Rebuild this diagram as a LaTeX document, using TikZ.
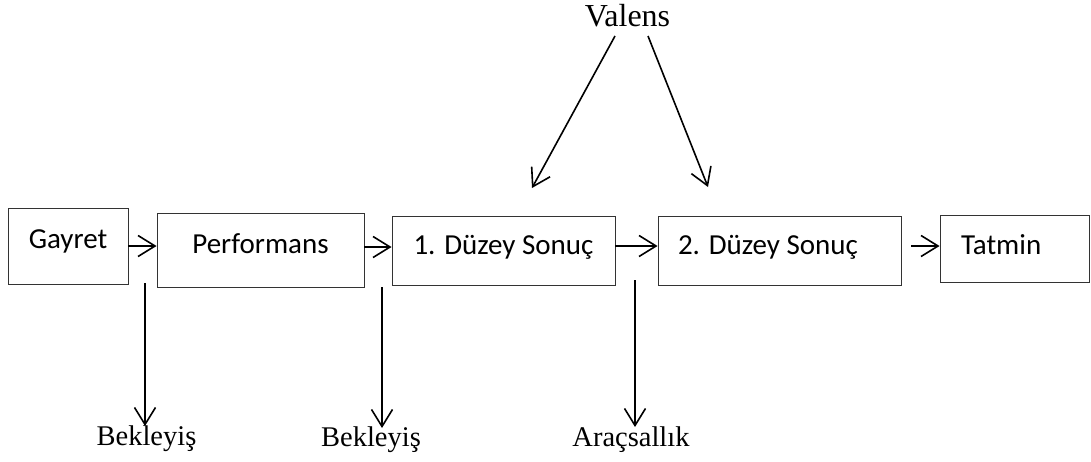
\documentclass[tikz,border=0pt]{standalone}
\usepackage{fontspec}
\setmainfont{Liberation Serif}
\newfontfamily\boxfont{Carlito}
\usetikzlibrary{arrows.meta}

\tikzset{
  stagebox/.style={draw=black!80, line width=0.9pt, inner sep=0pt,
    font=\boxfont\fontsize{29}{34}\selectfont},
  leftbox/.style={stagebox, align=flush left, inner xsep=20pt},
  factor/.style={inner sep=0pt, anchor=base, font=\fontsize{28.5}{34}\selectfont},
  arr/.style={line width=1.6pt, -{Straight Barb[length=17pt,width=21pt,line width=1.6pt]}},
}

\begin{document}
\begin{tikzpicture}[x=1pt, y=-1pt]
  \useasboundingbox (0,0) rectangle (1091,461);

  % process chain
  \node[stagebox, minimum width=120pt, minimum height=76pt,
        text height=11pt, text depth=7pt] (g) at (68,246) {Gayret};
  \node[stagebox, minimum width=207pt, minimum height=74pt,
        text height=12pt, text depth=5pt] (p) at (260.5,250) {Performans};
  \node[stagebox, minimum width=223pt, minimum height=69pt,
        text height=12pt, text depth=5pt] (d1) at (503.5,250.5) {1. Düzey Sonuç};
  \node[leftbox, text width=203pt, minimum height=69pt,
        text height=12pt, text depth=5pt] (d2) at (779.5,250.5) {2. Düzey Sonuç};
  \node[leftbox, inner xsep=21pt, text width=107pt, minimum height=67pt,
        text height=14pt, text depth=3pt] (t) at (1014.5,248.5) {Tatmin};

  \draw[arr] (g.east) -- (g.east -| p.west);
  \draw[arr] ([yshift=3pt]p.east) -- ([yshift=3pt]p.east -| d1.west);
  \draw[arr] ([yshift=4.5pt]d1.east) -- ([yshift=4.5pt]d1.east -| d2.west);
  \draw[arr] ([xshift=10pt,yshift=4.5pt]d2.east) -- ([yshift=4.5pt]d2.east -| t.west);

  % valence
  \node[factor, font=\fontsize{32}{36}\selectfont] (val) at (627.5,26) {Valens};
  \coordinate (vl) at (615,36);
  \coordinate (vr) at (648,36);
  \coordinate (vlt) at (532,188);
  \coordinate (vrt) at (708,187);
  \draw[arr] (vl) -- (vlt);
  \draw[arr] (vr) -- (vrt);

  % expectancy and instrumentality
  \node[factor] (b1) at (146.5,445) {Bekleyiş};
  \node[factor] (b2) at (371,446) {Bekleyiş};
  \node[factor] (ar) at (631,446) {Araçsallık};
  \coordinate (b1s) at (145,283);
  \coordinate (b1t) at (145,426);
  \coordinate (b2s) at (382,287);
  \coordinate (b2t) at (382,428);
  \coordinate (ars) at (635,280);
  \coordinate (art) at (635,427);
  \draw[arr] (b1s) -- (b1t);
  \draw[arr] (b2s) -- (b2t);
  \draw[arr] (ars) -- (art);
\end{tikzpicture}
\end{document}
